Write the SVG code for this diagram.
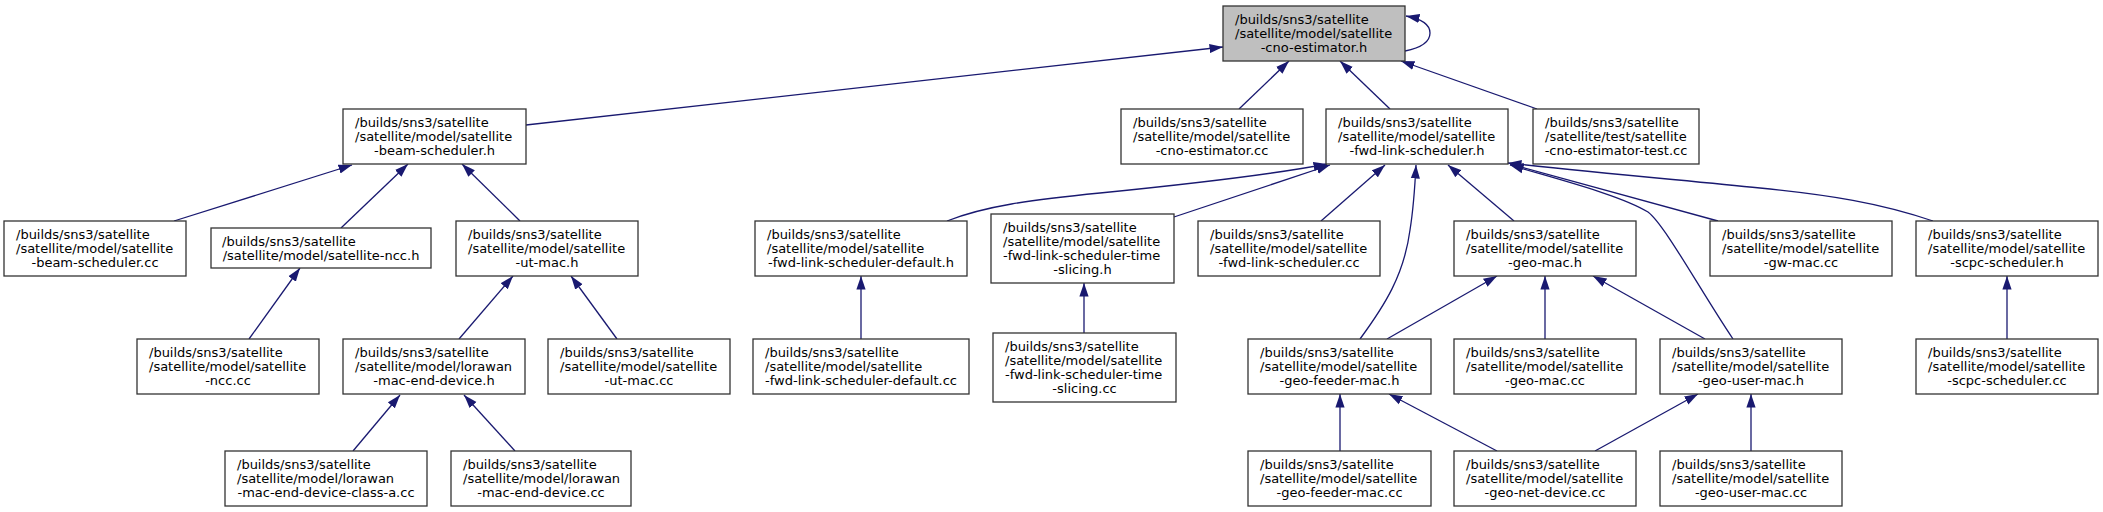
<svg xmlns="http://www.w3.org/2000/svg" width="2103" height="512" viewBox="0 0 2103 512">
<style>
.n rect{fill:#fff;stroke:#333;stroke-width:1.3}
.n.root rect{fill:#bfbfbf}
.n text{font-family:"DejaVu Sans",sans-serif;font-size:13px;fill:#000}
.n text.c{text-anchor:middle}
.e path{fill:none;stroke:#191970;stroke-width:1.3;marker-end:url(#ah)}
</style>
<defs>
<marker id="ah" viewBox="0 0 14 10" refX="13.5" refY="5" markerWidth="14" markerHeight="10" orient="auto" markerUnits="userSpaceOnUse">
<path d="M0,0.4 L13.5,5 L0,9.6 Z" fill="#191970"/>
</marker>
</defs>
<rect width="2103" height="512" fill="#fff"/>
<g class="e" id="connectors">
<path d="M526,125 L1223,47"/>
<path d="M1239,109 L1289,61"/>
<path d="M1390,109 L1340,61"/>
<path d="M1537,109 L1401,61"/>
<path d="M1405,51 C1420,48 1430,42 1430,33 C1430,25 1422,19 1406,16"/>
<path d="M174,221 L352,165"/>
<path d="M341,228 L408,164"/>
<path d="M520,221 L462,164"/>
<path d="M249,339 L300,268"/>
<path d="M459,339 L513,276"/>
<path d="M617,339 L571,276"/>
<path d="M353,451 L400,395"/>
<path d="M515,451 L464,395"/>
<path d="M947,221 C985,206 1030,200 1100,193 C1200,183 1270,175 1327,164"/>
<path d="M1174,217 L1330,165"/>
<path d="M1321,221 L1385,165"/>
<path d="M1360,339 C1385,305 1404,275 1410,230 C1414,205 1415,185 1416,165"/>
<path d="M1514,221 L1448,165"/>
<path d="M1733,339 C1700,290 1665,225 1648,212 C1620,195 1560,180 1510,165"/>
<path d="M1718,221 L1510,164"/>
<path d="M1933,221 C1880,203 1830,195 1760,188 C1680,180 1590,172 1508,163"/>
<path d="M861,339 L861,276"/>
<path d="M1084,333 L1084,283"/>
<path d="M1387,339 L1497,276"/>
<path d="M1545,339 L1545,276"/>
<path d="M1705,339 L1593,276"/>
<path d="M2007,339 L2007,276"/>
<path d="M1340,451 L1340,394"/>
<path d="M1497,451 L1389,394"/>
<path d="M1595,451 L1698,394"/>
<path d="M1751,451 L1751,394"/>
</g>
<g class="n root" id="node-cno-estimator-h"><rect x="1223" y="6" width="182" height="55"/><text x="1235" y="24">/builds/sns3/satellite</text><text x="1235" y="38">/satellite/model/satellite</text><text class="c" x="1314" y="52">-cno-estimator.h</text></g>
<g class="n" id="node-beam-scheduler-h"><rect x="343" y="109" width="183" height="55"/><text x="355" y="127">/builds/sns3/satellite</text><text x="355" y="141">/satellite/model/satellite</text><text class="c" x="434.5" y="155">-beam-scheduler.h</text></g>
<g class="n" id="node-cno-estimator-cc"><rect x="1121" y="109" width="182" height="55"/><text x="1133" y="127">/builds/sns3/satellite</text><text x="1133" y="141">/satellite/model/satellite</text><text class="c" x="1212" y="155">-cno-estimator.cc</text></g>
<g class="n" id="node-fwd-link-scheduler-h"><rect x="1326" y="109" width="182" height="55"/><text x="1338" y="127">/builds/sns3/satellite</text><text x="1338" y="141">/satellite/model/satellite</text><text class="c" x="1417" y="155">-fwd-link-scheduler.h</text></g>
<g class="n" id="node-cno-estimator-test-cc"><rect x="1533" y="109" width="166" height="55"/><text x="1545" y="127">/builds/sns3/satellite</text><text x="1545" y="141">/satellite/test/satellite</text><text class="c" x="1616" y="155">-cno-estimator-test.cc</text></g>
<g class="n" id="node-beam-scheduler-cc"><rect x="4" y="221" width="182" height="55"/><text x="16" y="239">/builds/sns3/satellite</text><text x="16" y="253">/satellite/model/satellite</text><text class="c" x="95" y="267">-beam-scheduler.cc</text></g>
<g class="n" id="node-ncc-h"><rect x="211" y="228" width="220" height="40"/><text x="222" y="246">/builds/sns3/satellite</text><text class="c" x="321" y="260">/satellite/model/satellite-ncc.h</text></g>
<g class="n" id="node-ut-mac-h"><rect x="456" y="221" width="182" height="55"/><text x="468" y="239">/builds/sns3/satellite</text><text x="468" y="253">/satellite/model/satellite</text><text class="c" x="547" y="267">-ut-mac.h</text></g>
<g class="n" id="node-fwd-default-h"><rect x="755" y="221" width="212" height="55"/><text x="767" y="239">/builds/sns3/satellite</text><text x="767" y="253">/satellite/model/satellite</text><text class="c" x="861" y="267">-fwd-link-scheduler-default.h</text></g>
<g class="n" id="node-fwd-time-slicing-h"><rect x="991" y="214" width="183" height="69"/><text x="1003" y="232">/builds/sns3/satellite</text><text x="1003" y="246">/satellite/model/satellite</text><text x="1003" y="260">-fwd-link-scheduler-time</text><text class="c" x="1082.5" y="274">-slicing.h</text></g>
<g class="n" id="node-fwd-link-scheduler-cc"><rect x="1198" y="221" width="182" height="55"/><text x="1210" y="239">/builds/sns3/satellite</text><text x="1210" y="253">/satellite/model/satellite</text><text class="c" x="1289" y="267">-fwd-link-scheduler.cc</text></g>
<g class="n" id="node-geo-mac-h"><rect x="1454" y="221" width="182" height="55"/><text x="1466" y="239">/builds/sns3/satellite</text><text x="1466" y="253">/satellite/model/satellite</text><text class="c" x="1545" y="267">-geo-mac.h</text></g>
<g class="n" id="node-gw-mac-cc"><rect x="1710" y="221" width="182" height="55"/><text x="1722" y="239">/builds/sns3/satellite</text><text x="1722" y="253">/satellite/model/satellite</text><text class="c" x="1801" y="267">-gw-mac.cc</text></g>
<g class="n" id="node-scpc-scheduler-h"><rect x="1916" y="221" width="182" height="55"/><text x="1928" y="239">/builds/sns3/satellite</text><text x="1928" y="253">/satellite/model/satellite</text><text class="c" x="2007" y="267">-scpc-scheduler.h</text></g>
<g class="n" id="node-ncc-cc"><rect x="137" y="339" width="182" height="55"/><text x="149" y="357">/builds/sns3/satellite</text><text x="149" y="371">/satellite/model/satellite</text><text class="c" x="228" y="385">-ncc.cc</text></g>
<g class="n" id="node-lorawan-mac-end-device-h"><rect x="343" y="339" width="182" height="55"/><text x="355" y="357">/builds/sns3/satellite</text><text x="355" y="371">/satellite/model/lorawan</text><text class="c" x="434" y="385">-mac-end-device.h</text></g>
<g class="n" id="node-ut-mac-cc"><rect x="548" y="339" width="182" height="55"/><text x="560" y="357">/builds/sns3/satellite</text><text x="560" y="371">/satellite/model/satellite</text><text class="c" x="639" y="385">-ut-mac.cc</text></g>
<g class="n" id="node-fwd-default-cc"><rect x="753" y="339" width="216" height="55"/><text x="765" y="357">/builds/sns3/satellite</text><text x="765" y="371">/satellite/model/satellite</text><text class="c" x="861" y="385">-fwd-link-scheduler-default.cc</text></g>
<g class="n" id="node-fwd-time-slicing-cc"><rect x="993" y="333" width="183" height="69"/><text x="1005" y="351">/builds/sns3/satellite</text><text x="1005" y="365">/satellite/model/satellite</text><text x="1005" y="379">-fwd-link-scheduler-time</text><text class="c" x="1084.5" y="393">-slicing.cc</text></g>
<g class="n" id="node-geo-feeder-mac-h"><rect x="1248" y="339" width="183" height="55"/><text x="1260" y="357">/builds/sns3/satellite</text><text x="1260" y="371">/satellite/model/satellite</text><text class="c" x="1339.5" y="385">-geo-feeder-mac.h</text></g>
<g class="n" id="node-geo-mac-cc"><rect x="1454" y="339" width="182" height="55"/><text x="1466" y="357">/builds/sns3/satellite</text><text x="1466" y="371">/satellite/model/satellite</text><text class="c" x="1545" y="385">-geo-mac.cc</text></g>
<g class="n" id="node-geo-user-mac-h"><rect x="1660" y="339" width="182" height="55"/><text x="1672" y="357">/builds/sns3/satellite</text><text x="1672" y="371">/satellite/model/satellite</text><text class="c" x="1751" y="385">-geo-user-mac.h</text></g>
<g class="n" id="node-scpc-scheduler-cc"><rect x="1916" y="339" width="182" height="55"/><text x="1928" y="357">/builds/sns3/satellite</text><text x="1928" y="371">/satellite/model/satellite</text><text class="c" x="2007" y="385">-scpc-scheduler.cc</text></g>
<g class="n" id="node-lorawan-class-a-cc"><rect x="225" y="451" width="202" height="55"/><text x="237" y="469">/builds/sns3/satellite</text><text x="237" y="483">/satellite/model/lorawan</text><text class="c" x="326" y="497">-mac-end-device-class-a.cc</text></g>
<g class="n" id="node-lorawan-mac-end-device-cc"><rect x="451" y="451" width="180" height="55"/><text x="463" y="469">/builds/sns3/satellite</text><text x="463" y="483">/satellite/model/lorawan</text><text class="c" x="541" y="497">-mac-end-device.cc</text></g>
<g class="n" id="node-geo-feeder-mac-cc"><rect x="1248" y="451" width="183" height="55"/><text x="1260" y="469">/builds/sns3/satellite</text><text x="1260" y="483">/satellite/model/satellite</text><text class="c" x="1339.5" y="497">-geo-feeder-mac.cc</text></g>
<g class="n" id="node-geo-net-device-cc"><rect x="1454" y="451" width="182" height="55"/><text x="1466" y="469">/builds/sns3/satellite</text><text x="1466" y="483">/satellite/model/satellite</text><text class="c" x="1545" y="497">-geo-net-device.cc</text></g>
<g class="n" id="node-geo-user-mac-cc"><rect x="1660" y="451" width="182" height="55"/><text x="1672" y="469">/builds/sns3/satellite</text><text x="1672" y="483">/satellite/model/satellite</text><text class="c" x="1751" y="497">-geo-user-mac.cc</text></g>
</svg>
